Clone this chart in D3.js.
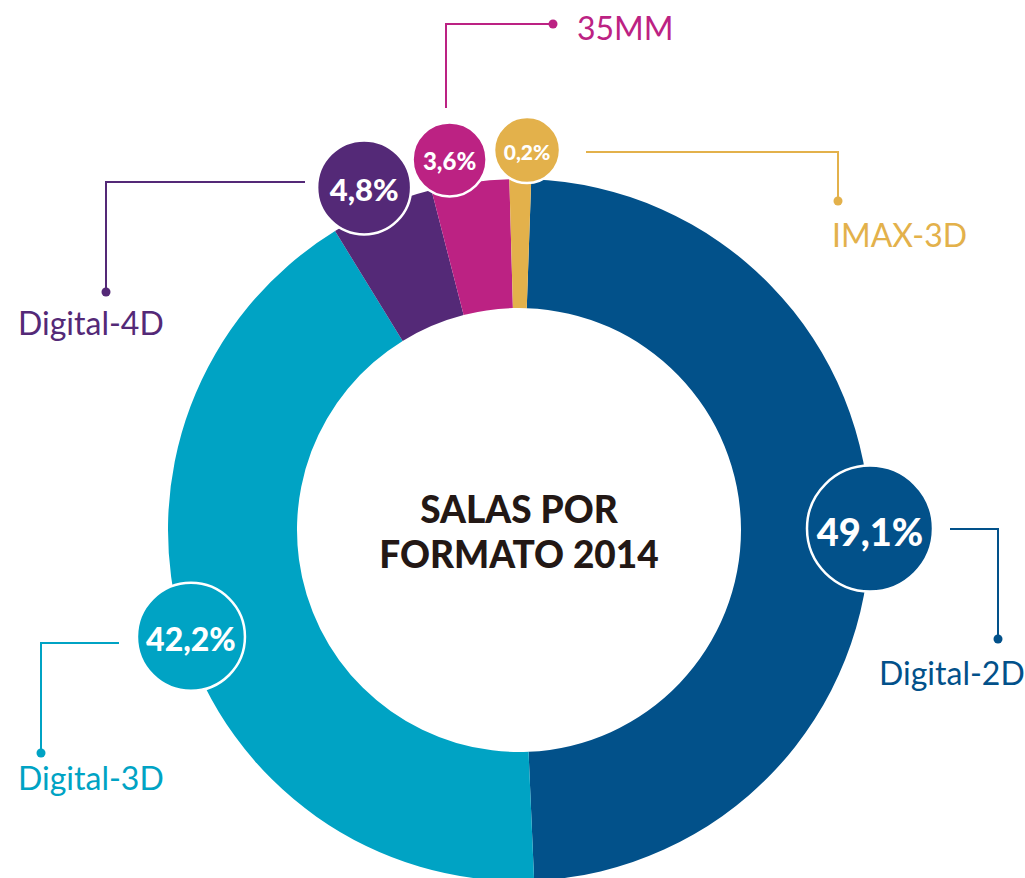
<!DOCTYPE html>
<html>
<head>
<meta charset="utf-8">
<script src="https://cdnjs.cloudflare.com/ajax/libs/d3/7.8.5/d3.min.js"></script>
<style>
  body { margin: 0; background: #fff; }
  svg { display: block; font-family: Lato, "Open Sans", sans-serif; }
</style>
</head>
<body>
<svg id="chart"></svg>
<script>
// data
const formats = ["Digital-2D", "Digital-3D", "Digital-4D", "35MM", "IMAX-3D"];
const shares = [49.1, 42.2, 4.8, 3.6, 0.2];
const shareLabels = ["49,1%", "42,2%", "4,8%", "3,6%", "0,2%"];
const colors = ["#02518a", "#00a3c4", "#542977", "#bc2283", "#e3b14b"];

// layout for badges and callouts
const badgeR = [63, 54, 47, 37, 33];
const badgeDist = [351, 345, 376, 377, 380];
const badgeNudge = [0, -1, -1.3, -2.6, 1];   // degrees
const badgeFont = [38, 32, 31, 24, 21];
const leaders = [
  [[950, 529], [998, 529], [998, 639]],
  [[119, 643], [41, 643], [41, 753]],
  [[305, 182], [106, 182], [106, 292]],
  [[446, 108], [446, 24], [553, 24]],
  [[586, 152], [838, 152], [838, 201]]
];
const labelPos = [[879, 685], [18, 790], [18, 335], [577, 40], [832, 247]];

const width = 1025,
      height = 878,
      cx = 519,
      cy = 530,
      outerR = 351,
      innerR = 222;

const svg = d3.select("#chart")
    .attr("width", width)
    .attr("height", height);

const color = d3.scaleOrdinal().domain(formats).range(colors);

const rows = formats.map((f, i) => ({ format: f, share: shares[i], label: shareLabels[i], i: i }));

// the tiny IMAX slice is drawn with a minimum width so it stays visible
const startA = 2 * Math.PI / 180;
const pie = d3.pie()
    .sort(null)
    .value((d) => Math.max(d.share, 1))
    .startAngle(startA)
    .endAngle(startA + 2 * Math.PI);

const arc = d3.arc()
    .innerRadius(innerR)
    .outerRadius(outerR);

const g = svg.append("g")
    .attr("transform", `translate(${[cx, cy]})`);

const arcs = pie(rows);

g.selectAll(".slice")
    .data(arcs)
    .enter().append("path")
      .attr("class", "slice")
      .attr("d", arc)
      .attr("fill", (d) => color(d.data.format));

// leader lines
const line = d3.line();
svg.selectAll(".leader")
    .data(rows)
    .enter().append("path")
      .attr("class", "leader")
      .attr("d", (d) => line(leaders[d.i]))
      .attr("fill", "none")
      .attr("stroke", (d) => color(d.format))
      .attr("stroke-width", 2);

svg.selectAll(".dot")
    .data(rows)
    .enter().append("circle")
      .attr("class", "dot")
      .attr("cx", (d) => leaders[d.i][2][0])
      .attr("cy", (d) => leaders[d.i][2][1])
      .attr("r", 4.5)
      .attr("fill", (d) => color(d.format));

svg.selectAll(".name")
    .data(rows)
    .enter().append("text")
      .attr("class", "name")
      .attr("x", (d) => labelPos[d.i][0])
      .attr("y", (d) => labelPos[d.i][1])
      .attr("fill", (d) => color(d.format))
      .style("font-size", "32px")
      .text((d) => d.format);

// badges near the centroid angle of each slice
const badge = g.selectAll(".badge")
    .data(arcs)
    .enter().append("g")
      .attr("class", "badge")
      .attr("transform", (d) => {
          const a = (d.startAngle + d.endAngle) / 2 + badgeNudge[d.data.i] * Math.PI / 180,
                r = badgeDist[d.data.i];
          return `translate(${[r * Math.sin(a), -r * Math.cos(a)]})`;
      });

badge.append("circle")
    .attr("r", (d) => badgeR[d.data.i])
    .attr("fill", (d) => color(d.data.format))
    .attr("stroke", "#fff")
    .attr("stroke-width", 2.5);

badge.append("text")
    .attr("text-anchor", "middle")
    .attr("dy", "0.45em")
    .attr("fill", "#fff")
    .style("font-weight", 900)
    .style("font-size", (d) => badgeFont[d.data.i] + "px")
    .text((d) => d.data.label);

// title in the hole
const title = g.append("text")
    .attr("text-anchor", "middle")
    .attr("fill", "#231815")
    .style("font-weight", 900)
    .style("font-size", "37px");
title.append("tspan").attr("x", 0).attr("y", -7).text("SALAS POR");
title.append("tspan").attr("x", 0).attr("y", 38).text("FORMATO 2014");
</script>
</body>
</html>
